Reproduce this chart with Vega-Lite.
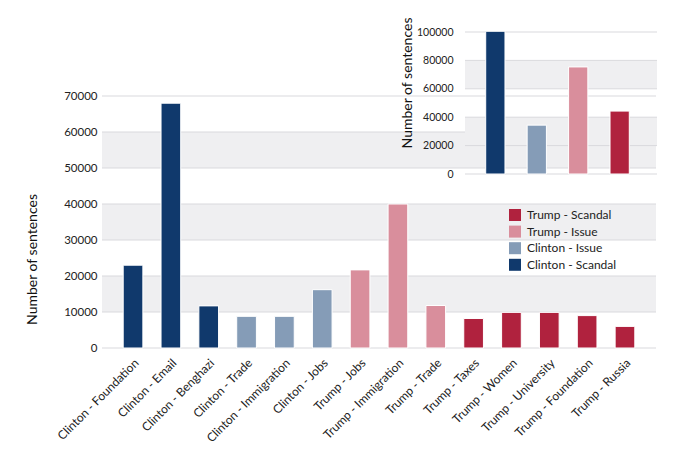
{
  "$schema": "https://vega.github.io/schema/vega-lite/v6.json",
  "autosize": {"type": "none"},
  "padding": {"left": 102, "top": 96, "right": 34, "bottom": 105},
  "width": 554,
  "height": 252,
  "config": {
    "font": "Lato",
    "view": {"stroke": null},
    "axis": {"labelColor": "#222222", "titleColor": "#111111", "labelFont": "Lato", "titleFont": "Lato", "titleFontWeight": "normal"},
    "legend": {"labelColor": "#222222", "labelFont": "Lato"}
  },
  "datasets": {
    "topics": [
      {"topic": "Clinton - Foundation", "group": "Clinton - Scandal", "n": 23000},
      {"topic": "Clinton - Email", "group": "Clinton - Scandal", "n": 68000},
      {"topic": "Clinton - Benghazi", "group": "Clinton - Scandal", "n": 11700},
      {"topic": "Clinton - Trade", "group": "Clinton - Issue", "n": 8800},
      {"topic": "Clinton - Immigration", "group": "Clinton - Issue", "n": 8800},
      {"topic": "Clinton - Jobs", "group": "Clinton - Issue", "n": 16200},
      {"topic": "Trump - Jobs", "group": "Trump - Issue", "n": 21700},
      {"topic": "Trump - Immigration", "group": "Trump - Issue", "n": 40000},
      {"topic": "Trump - Trade", "group": "Trump - Issue", "n": 11800},
      {"topic": "Trump - Taxes", "group": "Trump - Scandal", "n": 8200},
      {"topic": "Trump - Women", "group": "Trump - Scandal", "n": 9900},
      {"topic": "Trump - University", "group": "Trump - Scandal", "n": 9900},
      {"topic": "Trump - Foundation", "group": "Trump - Scandal", "n": 9000},
      {"topic": "Trump - Russia", "group": "Trump - Scandal", "n": 6000}
    ],
    "totals": [
      {"group": "Clinton - Scandal", "n": 100500},
      {"group": "Clinton - Issue", "n": 34400},
      {"group": "Trump - Issue", "n": 75400},
      {"group": "Trump - Scandal", "n": 44300}
    ],
    "mainBands": [
      {"lo": 10000, "hi": 20000},
      {"lo": 30000, "hi": 40000},
      {"lo": 50000, "hi": 60000}
    ],
    "mainTicks": [
      {"tick": 0}, {"tick": 10000}, {"tick": 20000}, {"tick": 30000},
      {"tick": 40000}, {"tick": 50000}, {"tick": 60000}, {"tick": 70000}
    ],
    "insetBands": [
      {"lo": 20000, "hi": 40000},
      {"lo": 60000, "hi": 80000}
    ],
    "insetTicks": [
      {"tick": 0}, {"tick": 20000}, {"tick": 40000},
      {"tick": 60000}, {"tick": 80000}, {"tick": 100000}
    ]
  },
  "layer": [
    {
      "layer": [
        {
          "data": {"name": "mainBands"},
          "mark": {"type": "rect", "color": "#efeff1"},
          "encoding": {
            "y": {
              "field": "lo", "type": "quantitative",
              "scale": {"domain": [0, 70000], "nice": false},
              "axis": {"title": "Number of sentences", "titleFontSize": 14, "titleX": -66, "titleY": 163, "titleBaseline": "alphabetic", "grid": false, "domain": false, "ticks": false, "tickSize": 0, "labelPadding": 5, "labelFontSize": 11.5, "values": [0, 10000, 20000, 30000, 40000, 50000, 60000, 70000], "format": "d"}
            },
            "y2": {"field": "hi"}
          }
        },
        {
          "data": {"name": "mainTicks"},
          "mark": {"type": "rule", "color": "#d9d9dd", "strokeWidth": 1},
          "encoding": {
            "y": {
              "field": "tick", "type": "quantitative",
              "scale": {"domain": [0, 70000], "nice": false},
              "axis": {"title": "Number of sentences", "titleFontSize": 14, "titleX": -66, "titleY": 163, "titleBaseline": "alphabetic", "grid": false, "domain": false, "ticks": false, "tickSize": 0, "labelPadding": 5, "labelFontSize": 11.5, "values": [0, 10000, 20000, 30000, 40000, 50000, 60000, 70000], "format": "d"}
            }
          }
        },
        {
          "data": {"name": "topics"},
          "mark": {"type": "bar", "stroke": "white", "strokeWidth": 1},
          "encoding": {
            "x": {
              "field": "topic",
              "type": "nominal",
              "sort": null,
              "scale": {"paddingInner": 0.48, "paddingOuter": 0.56},
              "axis": {"title": null, "labelAngle": -45, "domain": false, "ticks": false, "tickSize": 0, "labelPadding": 9, "labelFontSize": 12}
            },
            "y": {
              "field": "n", "type": "quantitative",
              "scale": {"domain": [0, 70000], "nice": false},
              "axis": {"title": "Number of sentences", "titleFontSize": 14, "titleX": -66, "titleY": 163, "titleBaseline": "alphabetic", "grid": false, "domain": false, "ticks": false, "tickSize": 0, "labelPadding": 5, "labelFontSize": 11.5, "values": [0, 10000, 20000, 30000, 40000, 50000, 60000, 70000], "format": "d"}
            },
            "color": {
              "field": "group",
              "type": "nominal",
              "scale": {
                "domain": ["Trump - Scandal", "Trump - Issue", "Clinton - Issue", "Clinton - Scandal"],
                "range": ["#b0223e", "#d98e9c", "#859cb7", "#10396c"]
              },
              "legend": {
                "title": null,
                "orient": "none",
                "legendX": 407,
                "legendY": 113,
                "padding": 0,
                "symbolType": "square",
                "symbolSize": 144,
                "symbolStrokeWidth": 0,
                "symbolOpacity": 1,
                "labelFontSize": 12,
                "labelOffset": 6,
                "rowPadding": 4.6
              }
            }
          }
        }
      ]
    },
    {
      "layer": [
        {
          "layer": [
            {
              "mark": {"type": "rect", "color": "white"},
              "encoding": {
                "x": {"datum": -0.36, "type": "quantitative", "scale": {"domain": [0, 1], "range": [363, 555]}, "axis": null},
                "x2": {"datum": 1},
                "y": {
                  "datum": 122000, "type": "quantitative",
                  "scale": {"domain": [0, 100000], "range": [78, -64], "nice": false},
                  "axis": {"orient": "left", "offset": -363, "zindex": 1, "values": [0, 20000, 40000, 60000, 80000, 100000], "format": "d", "title": "Number of sentences", "titleFontSize": 14, "titleX": -54, "titleY": -13.5, "titleBaseline": "alphabetic", "grid": false, "domain": false, "ticks": false, "tickSize": 0, "labelPadding": 12, "labelFontSize": 10.5}
                },
                "y2": {"datum": -11000}
              }
            },
            {
              "data": {"name": "insetBands"},
              "mark": {"type": "rect", "color": "#efeff1"},
              "encoding": {
                "x": {"datum": 0, "type": "quantitative", "scale": {"domain": [0, 1], "range": [363, 555]}, "axis": null},
                "x2": {"datum": 1},
                "y": {
                  "field": "lo", "type": "quantitative",
                  "scale": {"domain": [0, 100000], "range": [78, -64], "nice": false},
                  "axis": {"orient": "left", "offset": -363, "zindex": 1, "values": [0, 20000, 40000, 60000, 80000, 100000], "format": "d", "title": "Number of sentences", "titleFontSize": 14, "titleX": -54, "titleY": -13.5, "titleBaseline": "alphabetic", "grid": false, "domain": false, "ticks": false, "tickSize": 0, "labelPadding": 12, "labelFontSize": 10.5}
                },
                "y2": {"field": "hi"}
              }
            },
            {
              "data": {"name": "insetTicks"},
              "mark": {"type": "rule", "color": "#d9d9dd", "strokeWidth": 1},
              "encoding": {
                "x": {"datum": 0, "type": "quantitative", "scale": {"domain": [0, 1], "range": [363, 555]}, "axis": null},
                "x2": {"datum": 1},
                "y": {
                  "field": "tick", "type": "quantitative",
                  "scale": {"domain": [0, 100000], "range": [78, -64], "nice": false},
                  "axis": {"orient": "left", "offset": -363, "zindex": 1, "values": [0, 20000, 40000, 60000, 80000, 100000], "format": "d", "title": "Number of sentences", "titleFontSize": 14, "titleX": -54, "titleY": -13.5, "titleBaseline": "alphabetic", "grid": false, "domain": false, "ticks": false, "tickSize": 0, "labelPadding": 12, "labelFontSize": 10.5}
                }
              }
            }
          ]
        },
        {
          "data": {"name": "totals"},
          "mark": {"type": "bar", "stroke": "white", "strokeWidth": 1},
          "encoding": {
            "x": {
              "field": "group",
              "type": "nominal",
              "sort": ["Clinton - Scandal", "Clinton - Issue", "Trump - Issue", "Trump - Scandal"],
              "scale": {"range": [363, 548], "paddingInner": 0.535, "paddingOuter": 0.5},
              "axis": null
            },
            "y": {
              "field": "n", "type": "quantitative",
              "scale": {"domain": [0, 100000], "range": [78, -64], "nice": false},
              "axis": {"orient": "left", "offset": -363, "zindex": 1, "values": [0, 20000, 40000, 60000, 80000, 100000], "format": "d", "title": "Number of sentences", "titleFontSize": 14, "titleX": -54, "titleY": -13.5, "titleBaseline": "alphabetic", "grid": false, "domain": false, "ticks": false, "tickSize": 0, "labelPadding": 12, "labelFontSize": 10.5}
            },
            "color": {
              "field": "group",
              "type": "nominal",
              "scale": {
                "domain": ["Trump - Scandal", "Trump - Issue", "Clinton - Issue", "Clinton - Scandal"],
                "range": ["#b0223e", "#d98e9c", "#859cb7", "#10396c"]
              },
              "legend": null
            }
          }
        }
      ],
      "resolve": {"scale": {"x": "independent"}}
    }
  ],
  "resolve": {"scale": {"x": "independent", "y": "independent"}}
}
